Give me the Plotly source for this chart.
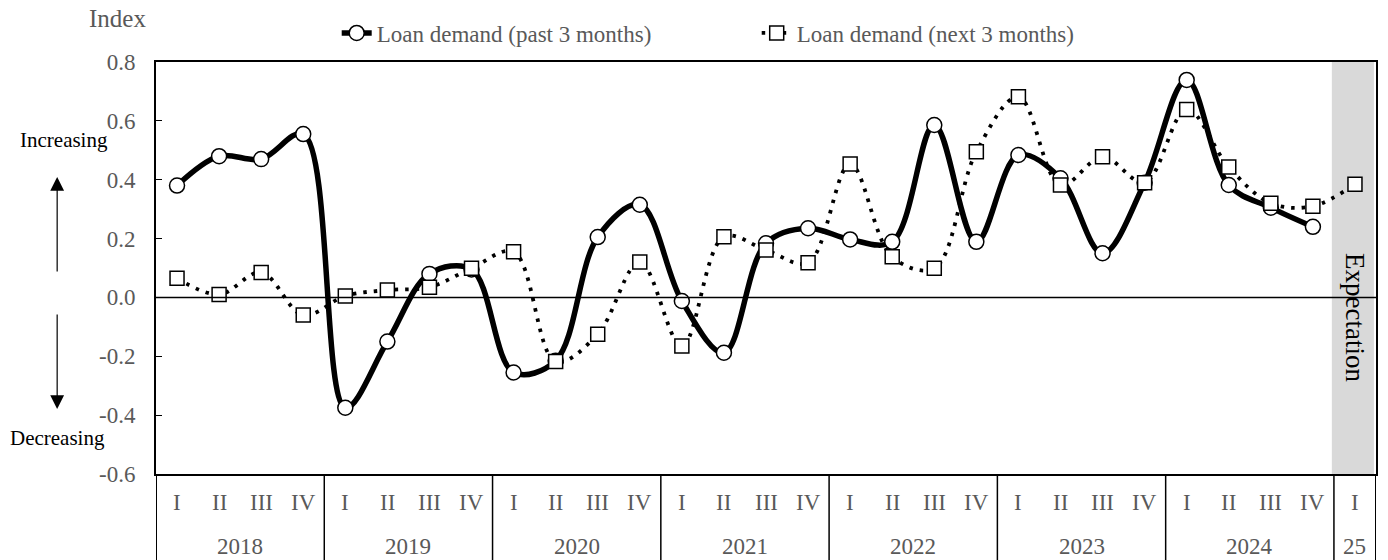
import plotly.graph_objects as go

years = ["2018", "2019", "2020", "2021", "2022", "2023", "2024", "25"]
quarters = ["I", "II", "III", "IV"]
quarter_labels = quarters * 7 + ["I"]
year_quarter_counts = [4, 4, 4, 4, 4, 4, 4, 1]

y_tick_values = [-0.6, -0.4, -0.2, 0.0, 0.2, 0.4, 0.6, 0.8]
y_tick_labels = ["-0.6", "-0.4", "-0.2", "0.0", "0.2", "0.4", "0.6", "0.8"]

past_3m = [0.38, 0.48, 0.47, 0.555,
           -0.375, -0.15, 0.08, 0.095,
           -0.255, -0.215, 0.205, 0.315,
           -0.012, -0.188, 0.184, 0.235,
           0.197, 0.189, 0.586, 0.189,
           0.484, 0.405, 0.15, 0.39,
           0.739, 0.382, 0.305, 0.24,
           None]
next_3m = [0.065, 0.01, 0.085, -0.06,
           0.005, 0.025, 0.035, 0.099,
           0.155, -0.218, -0.125, 0.12,
           -0.165, 0.206, 0.161, 0.118,
           0.453, 0.138, 0.099, 0.495,
           0.682, 0.382, 0.478, 0.39,
           0.639, 0.443, 0.32, 0.31,
           0.385]

serif = "Liberation Serif"
gray = "#595959"
xs = list(range(len(quarter_labels)))

PH = 412.0  # plot height in px
PW = 1222.0  # plot width in px

fig = go.Figure()
fig.add_trace(go.Scatter(
    x=xs, y=past_3m, name="Loan demand (past 3 months)",
    mode="lines+markers",
    line=dict(color="black", width=5.5, shape="spline", smoothing=1.0),
    marker=dict(symbol="circle", size=15, color="white", line=dict(color="black", width=1.5)),
    connectgaps=False,
))
fig.add_trace(go.Scatter(
    x=xs, y=next_3m, name="Loan demand (next 3 months)",
    mode="lines+markers",
    line=dict(color="black", width=3.8, shape="spline", smoothing=1.0, dash="3.5px,7px"),
    marker=dict(symbol="square", size=14, color="white", line=dict(color="black", width=1.5)),
))

shapes = []
# Expectation shading
shapes.append(dict(type="rect", xref="x", yref="y", x0=27.45, x1=28.45, y0=-0.6, y1=0.8,
                   fillcolor="#d9d9d9", line=dict(width=0), layer="below"))
# zero line
shapes.append(dict(type="line", xref="paper", yref="y", x0=0, x1=1, y0=0, y1=0,
                   line=dict(color="black", width=1.5)))
# category table dividers
bottom = -90 / PH
pos = -0.5
shapes.append(dict(type="line", xref="x", yref="paper", x0=pos, x1=pos, y0=0, y1=bottom,
                   line=dict(color="black", width=2)))
for c in year_quarter_counts:
    pos += c
    shapes.append(dict(type="line", xref="x", yref="paper", x0=pos, x1=pos, y0=0, y1=bottom,
                       line=dict(color="black", width=1.5 if pos < 28 else 2)))

annotations = []
for i, q in enumerate(quarter_labels):
    annotations.append(dict(x=i, y=-28 / PH, xref="x", yref="paper", text=q, showarrow=False,
                            font=dict(family=serif, size=23, color=gray),
                            xanchor="center", yanchor="middle"))
start = 0
for yr, c in zip(years, year_quarter_counts):
    annotations.append(dict(x=start + (c - 1) / 2, y=-72 / PH, xref="x", yref="paper", text=yr,
                            showarrow=False, font=dict(family=serif, size=23, color=gray),
                            xanchor="center", yanchor="middle"))
    start += c

annotations.append(dict(x=28, y=-0.07, xref="x", yref="y", text="Expectation", textangle=90,
                        showarrow=False, xanchor="center", yanchor="middle",
                        font=dict(family=serif, size=27, color="black")))
annotations.append(dict(x=(117 - 156) / PW, y=(474 - 18) / PH, xref="paper", yref="paper",
                        text="Index", showarrow=False, xanchor="center", yanchor="middle",
                        font=dict(family=serif, size=25, color=gray)))
annotations.append(dict(x=(64 - 156) / PW, y=(474 - 140) / PH, xref="paper", yref="paper",
                        text="Increasing", showarrow=False, xanchor="center", yanchor="middle",
                        font=dict(family=serif, size=21, color="black")))
annotations.append(dict(x=(57 - 156) / PW, y=(474 - 438) / PH, xref="paper", yref="paper",
                        text="Decreasing", showarrow=False, xanchor="center", yanchor="middle",
                        font=dict(family=serif, size=21, color="black")))
annotations.append(dict(x=(57 - 156) / PW, y=(474 - 177) / PH, xref="paper", yref="paper",
                        text="", showarrow=True, ax=0, ay=96, arrowhead=2, arrowsize=2.3,
                        arrowwidth=1.2, arrowcolor="black"))
annotations.append(dict(x=(57 - 156) / PW, y=(474 - 409) / PH, xref="paper", yref="paper",
                        text="", showarrow=True, ax=0, ay=-96, arrowhead=2, arrowsize=2.3,
                        arrowwidth=1.2, arrowcolor="black"))

fig.update_layout(
    width=1388, height=560,
    margin=dict(l=156, r=10, t=62, b=86),
    paper_bgcolor="white", plot_bgcolor="white",
    showlegend=True,
    legend=dict(orientation="h", x=(337 - 156) / PW, y=(474 - 33) / PH, xanchor="left",
                yanchor="middle", font=dict(family=serif, size=23, color=gray),
                bgcolor="rgba(0,0,0,0)", entrywidth=375, entrywidthmode="pixels",
                tracegroupgap=0),
    shapes=shapes, annotations=annotations,
    xaxis=dict(range=[-0.5, 28.5], showticklabels=False, ticks="", showgrid=False, zeroline=False,
               showline=True, linecolor="black", linewidth=2, mirror=True),
    yaxis=dict(range=[-0.6, 0.8], tickmode="array", tickvals=y_tick_values,
               ticktext=y_tick_labels, showgrid=False,
               zeroline=False, showline=True, linecolor="black", linewidth=2, mirror=True,
               ticks="inside", ticklen=6, tickcolor="black", ticklabelstandoff=14,
               tickfont=dict(family=serif, size=23, color=gray)),
)

fig.write_html("out.html")
